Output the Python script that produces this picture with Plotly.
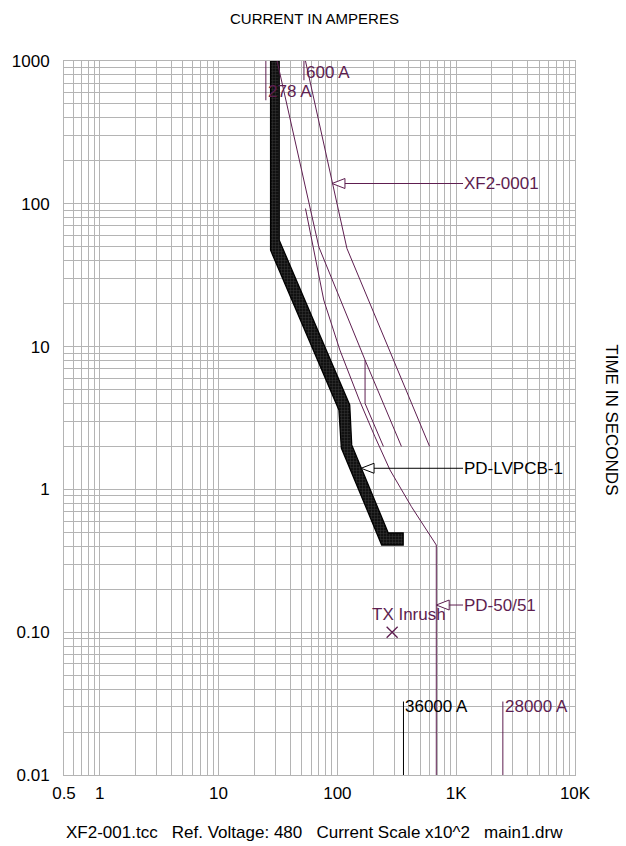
import math
import plotly.graph_objects as go

PURPLE = '#5e1e50'
GRID = '#b4b4b4'
FONT = 'Arial, Liberation Sans, sans-serif'

# ---------------- data (current in A x100, time in s) ----------------
# PD-LVPCB-1 breaker band
band_right_I = [32.4, 32.4, 127.0, 132.0, 268.0, 358.0, 358.0]
band_right_t = [1000, 55.6, 3.9, 2.05, 0.495, 0.495, 0.408]
band_left_I = [236.0, 108.0, 103.0, 27.4, 27.4]
band_left_t = [0.408, 1.95, 3.6, 47.3, 1000]

# XF2-0001 transformer damage curves
xf_outer_I = [53.9, 120.3, 597.0]
xf_outer_t = [1000, 48.7, 2.0]
xf_inner_I = [31.1, 69.8, 171.0, 346.0]
xf_inner_t = [1000, 49.9, 8.05, 2.0]
xf_mech_I = [171.0, 171.0, 244.0]
xf_mech_t = [8.05, 4.0, 2.0]

# PD-50/51 relay curve
relay_I = [53.9, 63.3, 76.8, 105.0, 153.0, 207.0, 277.0, 420.0, 680.0, 680.0]
relay_t = [92.7, 47.3, 21.2, 9.45, 4.22, 2.34, 1.37, 0.757, 0.408, 0.01]

# FLA markers (278 A, 600 A)
fla_I = [25.0, 52.3]
fla_t_bottom = [531, 733]
fla_labels = ['278 A', '600 A']
fla_label_t = [607, 837]

# fault current markers
fault_I = [360.0, 2470.0]
fault_t_top = [0.0327, 0.0327]
fault_labels = ['36000 A', '28000 A']
fault_colors = ['black', PURPLE]

# transformer inrush point
inrush_I = [289.0]
inrush_t = [0.1]

# device callouts
callout_names = ['XF2-0001', 'PD-LVPCB-1', 'PD-50/51']
callout_tip_I = [90.2, 158.4, 680.0]
callout_t = [138.7, 1.406, 0.155]
callout_colors = [PURPLE, 'black', PURPLE]
callout_text_I = 1142.0

x_ticks = [0.5, 1, 10, 100, 1000, 10000]
x_ticktext = ['0.5', '1', '10', '100', '1K', '10K']
y_ticks = [0.01, 0.1, 1, 10, 100, 1000]
y_ticktext = ['0.01', '0.10', '1', '10', '100', '1000']

# ---------------- figure ----------------
fig = go.Figure()

# breaker band polygon
fig.add_trace(go.Scatter(
    x=band_right_I + band_left_I + [band_right_I[0]],
    y=band_right_t + band_left_t + [band_right_t[0]],
    mode='lines', fill='toself', fillcolor='#1c1c1c',
    fillpattern=dict(shape='+', bgcolor='#111111', fgcolor='#5a5a5a', size=3, solidity=0.3),
    line=dict(color='black', width=1.3), hoverinfo='skip'))

for xs, ys in [(xf_outer_I, xf_outer_t), (xf_inner_I, xf_inner_t), (xf_mech_I, xf_mech_t),
               (relay_I, relay_t)]:
    fig.add_trace(go.Scatter(x=xs, y=ys, mode='lines',
                             line=dict(color=PURPLE, width=1), hoverinfo='skip'))

for i, I in enumerate(fla_I):
    fig.add_trace(go.Scatter(x=[I, I], y=[1000, fla_t_bottom[i]], mode='lines',
                             line=dict(color=PURPLE, width=1), hoverinfo='skip'))
    fig.add_annotation(x=math.log10(I), y=math.log10(fla_label_t[i]), text=fla_labels[i],
                       showarrow=False, xanchor='left', yanchor='middle', xshift=0,
                       font=dict(family=FONT, size=17, color=PURPLE))

for i, I in enumerate(fault_I):
    fig.add_trace(go.Scatter(x=[I, I], y=[fault_t_top[i], 0.01], mode='lines',
                             line=dict(color=fault_colors[i], width=1), hoverinfo='skip'))
    fig.add_annotation(x=math.log10(I), y=math.log10(0.0302), text=fault_labels[i],
                       showarrow=False, xanchor='left', yanchor='middle', xshift=0,
                       font=dict(family=FONT, size=17, color=fault_colors[i]))

fig.add_trace(go.Scatter(x=inrush_I, y=inrush_t, mode='markers',
                         marker=dict(symbol='x-thin-open', size=11, color=PURPLE,
                                     line=dict(color=PURPLE, width=1.3)),
                         hoverinfo='skip'))
fig.add_annotation(x=math.log10(188.3), y=math.log10(0.132), text='TX Inrush',
                   showarrow=False, xanchor='left', yanchor='middle',
                   font=dict(family=FONT, size=17, color=PURPLE))

# callouts with hollow arrowheads
DEC_X = 119.7  # px per decade on x
DEC_Y = 142.9  # px per decade on y
for i, name in enumerate(callout_names):
    I0 = callout_tip_I[i]
    t0 = callout_t[i]
    c = callout_colors[i]
    base = I0 * 10 ** (13 / DEC_X)
    up = t0 * 10 ** (5 / DEC_Y)
    dn = t0 / 10 ** (5 / DEC_Y)
    fig.add_trace(go.Scatter(x=[I0, base, base, I0], y=[t0, up, dn, t0], mode='lines',
                             fill='toself', fillcolor='white',
                             line=dict(color=c, width=1), hoverinfo='skip'))
    fig.add_trace(go.Scatter(x=[base, callout_text_I], y=[t0, t0], mode='lines',
                             line=dict(color=c, width=1), hoverinfo='skip'))
    fig.add_annotation(x=math.log10(callout_text_I), y=math.log10(t0), text=name,
                       showarrow=False, xanchor='left', yanchor='middle', xshift=-1,
                       font=dict(family=FONT, size=17, color=c))

# grid values (1..9 per decade)
x_grid = [m * 10 ** e for e in range(-1, 4) for m in range(1, 10)]
x_grid = [v for v in x_grid if 0.5 <= v <= 10000] + [10000]
y_grid = [m * 10 ** e for e in range(-2, 3) for m in range(1, 10)] + [1000]

fig.update_xaxes(type='log', range=[math.log10(0.5), 4],
                 tickmode='array', tickvals=x_grid,
                 ticktext=[x_ticktext[x_ticks.index(v)] if v in x_ticks else '' for v in x_grid],
                 showgrid=True, gridcolor=GRID, gridwidth=1,
                 showline=True, linecolor=GRID, mirror=True, zeroline=False,
                 ticks='', tickfont=dict(family=FONT, size=17, color='black'),
                 ticklabelstandoff=3)
fig.update_yaxes(type='log', range=[-2, 3],
                 tickmode='array', tickvals=y_grid,
                 ticktext=[y_ticktext[y_ticks.index(v)] if v in y_ticks else '' for v in y_grid],
                 showgrid=True, gridcolor=GRID, gridwidth=1,
                 showline=True, linecolor=GRID, mirror=True, zeroline=False,
                 ticks='', tickfont=dict(family=FONT, size=17, color='black'),
                 ticklabelstandoff=10)

fig.add_annotation(xref='paper', yref='paper', x=0.49, y=1.06, text='CURRENT IN AMPERES',
                   showarrow=False, xanchor='center', yanchor='middle',
                   font=dict(family=FONT, size=15, color='black'))
fig.add_annotation(xref='paper', yref='paper', x=1.072, y=0.497, text='TIME IN SECONDS',
                   showarrow=False, textangle=90, xanchor='center', yanchor='middle',
                   font=dict(family=FONT, size=17, color='black'))
fig.add_annotation(xref='paper', yref='paper', x=0.49, y=-0.081,
                   text='XF2-001.tcc   Ref. Voltage: 480   Current Scale x10^2   main1.drw',
                   showarrow=False, xanchor='center', yanchor='middle',
                   font=dict(family=FONT, size=17, color='black'))

fig.update_layout(width=626, height=846, showlegend=False,
                  margin=dict(l=60, r=51, t=61, b=71),
                  plot_bgcolor='white', paper_bgcolor='white')

fig.write_html('out.html', config={'displayModeBar': False},
               post_script="document.body.style.margin='0px';")
